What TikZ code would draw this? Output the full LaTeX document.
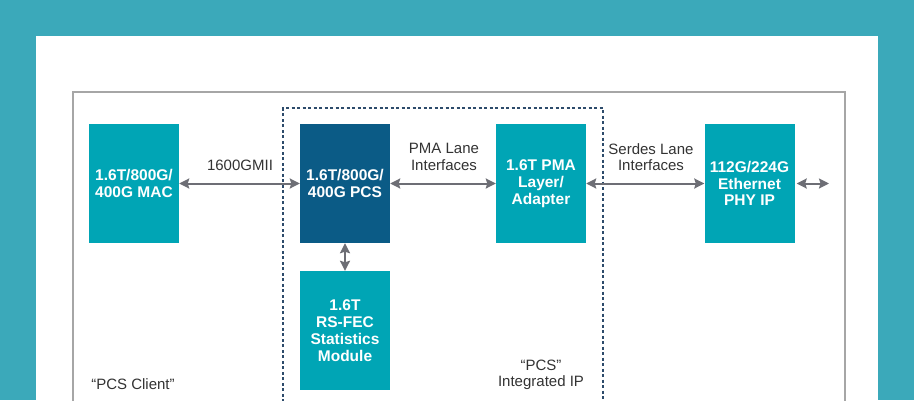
\documentclass[tikz,border=0pt]{standalone}
\usepackage{fontspec}
\setmainfont{Liberation Sans}
\usetikzlibrary{arrows.meta}
\definecolor{bgteal}{HTML}{3BA9BA}
\definecolor{boxteal}{HTML}{00A5B5}
\definecolor{boxdark}{HTML}{0B5B86}
\definecolor{arrowgray}{HTML}{6D6E75}
\definecolor{bordergray}{HTML}{A6A6A6}
\definecolor{dotcol}{HTML}{2D4B6B}
\definecolor{lbltext}{HTML}{333333}
\tikzset{
  blockbox/.style={draw=none, minimum width=90pt, minimum height=119pt, inner sep=0pt,
    align=center, text=white, font=\bfseries\fontsize{15.5}{16.8}\selectfont},
  conn/.style={draw=arrowgray, line width=2pt,
    {Stealth[length=10pt,width=10pt,inset=1.5pt]}-{Stealth[length=10pt,width=10pt,inset=1.5pt]}},
  lbl/.style={align=center, text=lbltext, inner sep=0pt, font=\fontsize{15}{16.5}\selectfont}
}
\begin{document}
\begin{tikzpicture}[x=1pt,y=-1pt]
\useasboundingbox (0,0) rectangle (914,400);
\fill[bgteal] (0,0) rectangle (914,400);
\fill[white] (36,36) rectangle (878,400);
\draw[bordergray, line width=2pt] (73,402) -- (73,92) -- (845,92) -- (845,402);
\draw[dotcol, line width=1.6pt, dash pattern=on 3pt off 2.5pt] (283,402) -- (283,108) -- (603,108) -- (603,402);

\node[blockbox, fill=boxteal] (mac) at (134,183.5) {1.6T/800G/\\400G MAC};
\node[blockbox, fill=boxdark] (pcs) at (345,183.5) {1.6T/800G/\\400G PCS};
\node[blockbox, fill=boxteal] (pma) at (541,183.5) {1.6T PMA\\Layer/\\Adapter};
\node[blockbox, fill=boxteal] (phy) at (749.5,183.5) {112G/224G\\Ethernet\\PHY IP};
\node[blockbox, fill=boxteal] (fec) at (345,330.5) {1.6T\\RS-FEC\\Statistics\\Module};
\coordinate (ext) at (829,183.5);

\draw[conn] (mac.east) -- (pcs.west);
\draw[conn] (pcs.east) -- (pma.west);
\draw[conn] (pma.east) -- (phy.west);
\draw[conn, shorten <=2pt] (phy.east) -- (ext);
\draw[conn] (pcs.south) -- (fec.north);

\node[lbl] (gmii) at (240,165) {1600GMII};
\node[lbl] (pmalane) at (444,157) {PMA Lane\\Interfaces};
\node[lbl] (serdes) at (651,157) {Serdes Lane\\Interfaces};
\node[lbl] (client) at (133,384) {“PCS Client”};
\node[lbl] (integ) at (541,375) {“PCS”\\Integrated IP};
\end{tikzpicture}
\end{document}
